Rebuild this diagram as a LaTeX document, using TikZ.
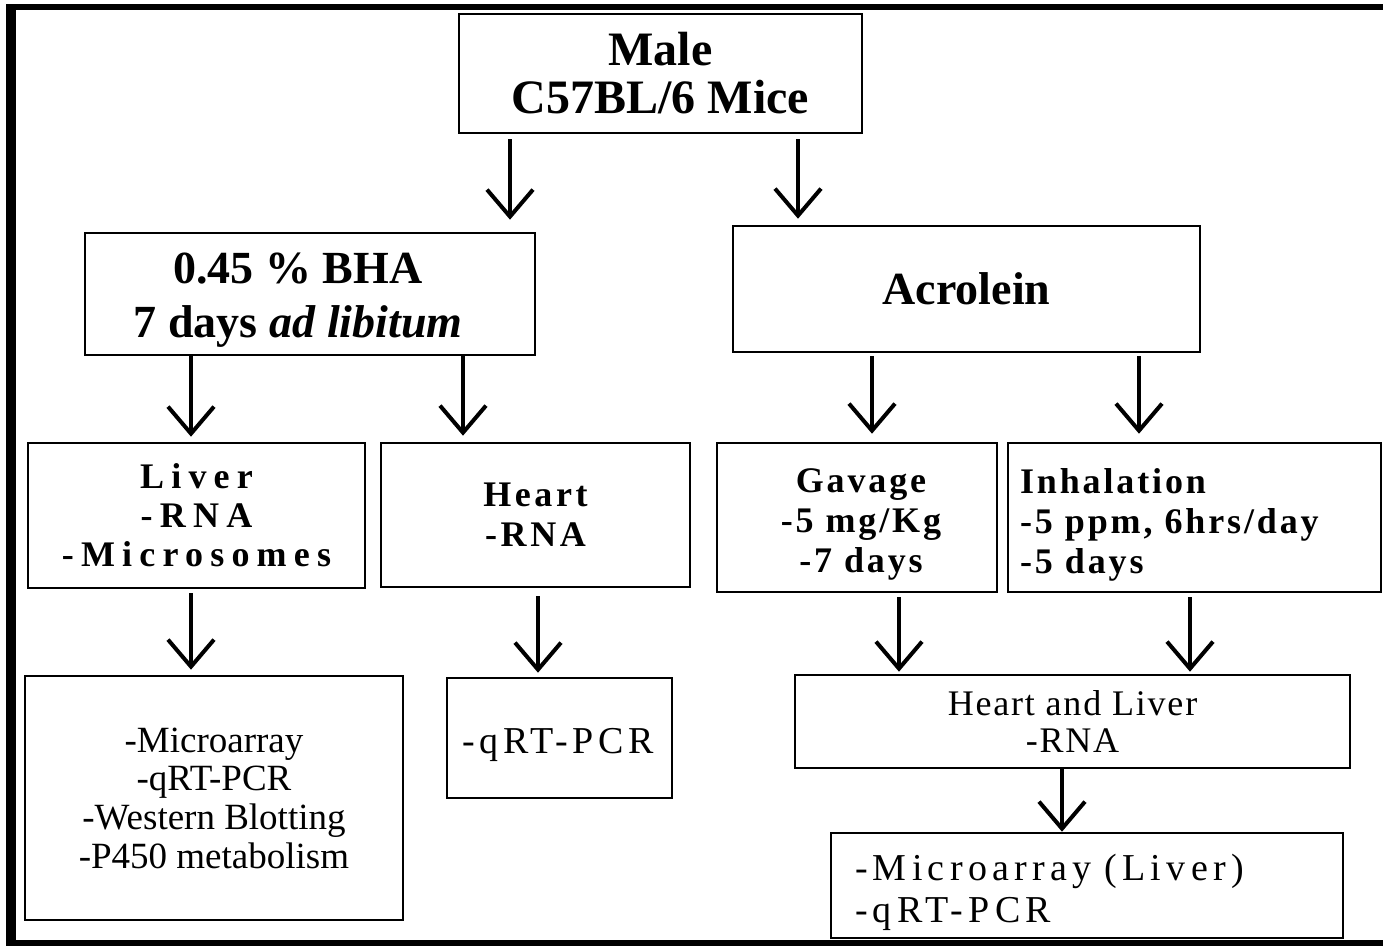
\documentclass[tikz,border=0pt]{standalone}
\usepackage{fontspec}
\setmainfont{Liberation Serif}
\usetikzlibrary{arrows.meta}

\tikzset{
  box/.style={draw, line width=2.6pt, inner sep=0pt, align=center},
  txt/.style={inner sep=0pt, align=center},
  conn/.style={line width=4pt, -{Straight Barb[length=27pt,width=46pt]}},
  frameline/.style={fill=black, draw=none},
}

\begin{document}
\begin{tikzpicture}[x=1pt,y=-1pt]
\useasboundingbox (0,0) rectangle (1383,948);

% outer frame (open on the right)
\fill[frameline] (6,4) rectangle (1383,10);
\fill[frameline] (6,4) rectangle (16,946);
\fill[frameline] (6,940) rectangle (1383,946);

% top level
\node[box, minimum width=403pt, minimum height=119pt,
      font=\fontsize{48pt}{48pt}\selectfont\bfseries] (mice) at (660.5,73.5)
  {Male\\C57BL/6 Mice};

% second level
\node[box, minimum width=450pt, minimum height=122pt] (bha) at (310,294) {};
\node[txt, font=\fontsize{46pt}{54pt}\selectfont\bfseries] (bhatxt) at (298,300)
  {0.45 \% BHA\\7 days\hspace{12pt}\textit{ad libitum}};
\node[box, minimum width=467pt, minimum height=126pt,
      font=\fontsize{46pt}{46pt}\selectfont\bfseries] (acro) at (966.5,289)
  {Acrolein};

% third level
\node[box, minimum width=337pt, minimum height=145pt,
      font=\fontsize{36pt}{39pt}\selectfont\bfseries\addfontfeature{LetterSpace=20}] (liver) at (196.5,515.5)
  {Liver\\-RNA\\-Microsomes};
\node[box, minimum width=309pt, minimum height=144pt,
      font=\fontsize{36pt}{40pt}\selectfont\bfseries\addfontfeature{LetterSpace=10}] (heart) at (535.5,515)
  {Heart\\-RNA};
\node[box, minimum width=280pt, minimum height=149pt] (gav) at (857,517.5) {};
\node[txt, font=\fontsize{36pt}{40pt}\selectfont\bfseries\addfontfeature{LetterSpace=8}] (gavtxt) at (861,524.5)
  {Gavage\\-5 mg/Kg\\-7 days};
\node[box, minimum width=373pt, minimum height=149pt] (inh) at (1194.5,517.5) {};
\node[txt, text width=349pt, align=left,
      font=\fontsize{36pt}{40pt}\selectfont\bfseries\addfontfeature{LetterSpace=8}] (inhtxt) at (1194.5,524.5)
  {Inhalation\\-5 ppm, 6hrs/day\\-5 days};

% analyses
\node[box, minimum width=378pt, minimum height=244pt,
      font=\fontsize{37pt}{38.7pt}\selectfont] (anal1) at (214,798)
  {-Microarray\\-qRT-PCR\\-Western Blotting\\-P450 metabolism};
\node[box, minimum width=225pt, minimum height=120pt] (anal2) at (559.5,738) {};
\node[txt, font=\fontsize{38pt}{38pt}\selectfont\addfontfeature{LetterSpace=12}] (anal2txt) at (558,745)
  {-qRT-PCR};
\node[box, minimum width=555pt, minimum height=93pt,
      font=\fontsize{36pt}{37pt}\selectfont\addfontfeature{LetterSpace=5}] (hl) at (1072.5,721.5)
  {Heart and Liver\\-RNA};
\node[box, minimum width=512pt, minimum height=105pt] (anal3) at (1087,885.5) {};
\node[txt, text width=476pt, align=left,
      font=\fontsize{38pt}{42pt}\selectfont\addfontfeature{LetterSpace=14}] (anal3txt) at (1093,892.5)
  {-Microarray (Liver)\\-qRT-PCR};

% column positions of the connectors
\coordinate (c1) at (510,0);
\coordinate (c2) at (798,0);
\coordinate (c3) at (191,0);
\coordinate (c4) at (463,0);
\coordinate (c5) at (872,0);
\coordinate (c6) at (1139,0);
\coordinate (c7) at (538,0);
\coordinate (c8) at (899,0);
\coordinate (c9) at (1190,0);
\coordinate (c10) at (1062,0);

\draw[conn, shorten <=5pt, shorten >=12pt] (mice.south -| c1) -- (bha.north -| c1);
\draw[conn, shorten <=5pt, shorten >=6pt] (mice.south -| c2) -- (acro.north -| c2);
\draw[conn, shorten >=5pt] (bha.south -| c3) -- (liver.north -| c3);
\draw[conn, shorten >=6pt] (bha.south -| c4) -- (heart.north -| c4);
\draw[conn, shorten <=3pt, shorten >=8pt] (acro.south -| c5) -- (gav.north -| c5);
\draw[conn, shorten <=3pt, shorten >=8pt] (acro.south -| c6) -- (inh.north -| c6);
\draw[conn, shorten <=4pt, shorten >=5pt] (liver.south -| c3) -- (anal1.north -| c3);
\draw[conn, shorten <=8pt, shorten >=4pt] (heart.south -| c7) -- (anal2.north -| c7);
\draw[conn, shorten <=4pt, shorten >=2pt] (gav.south -| c8) -- (hl.north -| c8);
\draw[conn, shorten <=4pt, shorten >=2pt] (inh.south -| c9) -- (hl.north -| c9);
\draw[conn] (hl.south -| c10) -- (anal3.north -| c10);
\end{tikzpicture}
\end{document}
